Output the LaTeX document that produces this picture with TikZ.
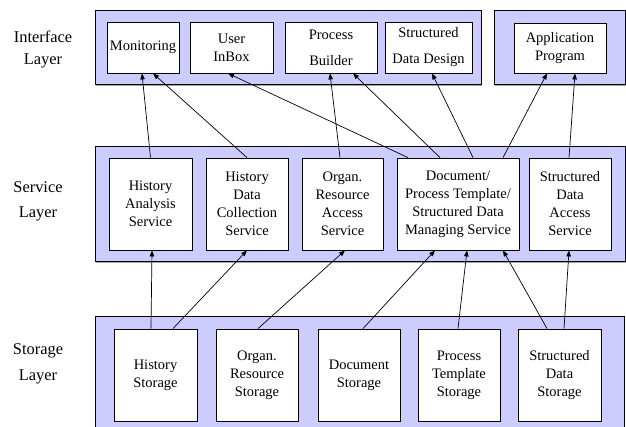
\documentclass[tikz,border=0pt]{standalone}
\usepackage{fontspec}
\setmainfont{Liberation Serif}
\usetikzlibrary{arrows.meta,shadows}
\definecolor{layerfill}{HTML}{CCCCFF}
\tikzset{
  panel/.style={draw=black, line width=1pt, fill=layerfill, inner sep=0pt,
    drop shadow={shadow xshift=1pt, shadow yshift=-1pt, fill=gray!70, opacity=1}},
  unit/.style={draw=black, line width=0.8pt, fill=white, inner sep=0pt, align=center,
    minimum height=#1, font=\fontsize{14.5}{18}\selectfont,
    drop shadow={shadow xshift=1pt, shadow yshift=-1pt, fill=gray!70, opacity=1}},
  unit/.default=51pt,
  layerlabel/.style={align=center, inner sep=0pt},
  link/.style={line width=0.7pt, -{Triangle[length=6pt,width=4.5pt]}}
}
\begin{document}
\begin{tikzpicture}[x=1pt,y=-1pt]
  \clip (0,0) rectangle (626,427);
  \fill[white] (0,0) rectangle (626,427);

  % layer labels
  \node[layerlabel, font=\fontsize{16.4}{22}\selectfont] (lint) at (43,50) {Interface\\Layer};
  \node[layerlabel, font=\fontsize{16.4}{25}\selectfont] (lsrv) at (38,201) {Service\\Layer};
  \node[layerlabel, font=\fontsize{16.4}{26}\selectfont] (lsto) at (38,364) {Storage\\Layer};

  % layer panels
  \node[panel, minimum width=386pt, minimum height=74pt] (pint) at (288,48) {};
  \node[panel, minimum width=131pt, minimum height=74pt] (papp) at (559.5,48) {};
  \node[panel, minimum width=530pt, minimum height=115pt] (psrv) at (360,204.5) {};
  \node[panel, minimum width=529pt, minimum height=125pt] (psto) at (359.5,379.5) {};

  % interface layer
  \node[unit, minimum width=72pt] (mon) at (143,47.5) {Monitoring};
  \node[unit, minimum width=83pt] (inbox) at (231.5,47.5) {User\\InBox};
  \node[unit, minimum width=92pt, font=\fontsize{14.5}{26}\selectfont] (pb) at (331,47.5) {Process\\Builder};
  \node[unit, minimum width=87pt, font=\fontsize{14.5}{26}\selectfont] (sdd) at (428.5,47.5) {Structured\\Data Design};
  \node[unit=50pt, minimum width=92pt] (app) at (560,48) {Application\\Program};

  % service layer
  \node[unit=92pt, minimum width=83pt] (has) at (150.5,204) {History\\Analysis\\Service};
  \node[unit=92pt, minimum width=82pt] (hdc) at (247,204) {History\\Data\\Collection\\Service};
  \node[unit=92pt, minimum width=81pt] (ora) at (342.5,204) {Organ.\\Resource\\Access\\Service};
  \node[unit=92pt, minimum width=122pt] (doc) at (458,204) {Document/\\Process Template/\\Structured Data\\Managing Service};
  \node[unit=92pt, minimum width=82pt] (sda) at (570,204) {Structured\\Data\\Access\\Service};

  % storage layer
  \node[unit=92pt, minimum width=83pt] (hs) at (155.5,375) {History\\Storage};
  \node[unit=92pt, minimum width=82pt] (ors) at (257,375) {Organ.\\Resource\\Storage};
  \node[unit=92pt, minimum width=82pt] (ds) at (359,375) {Document\\Storage};
  \node[unit=92pt, minimum width=82pt] (pts) at (459,375) {Process\\Template\\Storage};
  \node[unit=92pt, minimum width=83pt] (sds) at (559.5,375) {Structured\\Data\\Storage};

  % service -> interface
  \draw[link] (has.north) -- ([xshift=-1pt]mon.south);
  \draw[link] (hdc.north) -- ([xshift=10pt]mon.south);
  \draw[link] ([xshift=-50pt]doc.north) -- ([xshift=-3.5pt]inbox.south);
  \draw[link] ([xshift=-2.5pt]ora.north) -- ([xshift=-1pt]pb.south);
  \draw[link] ([xshift=-18pt]doc.north) -- ([xshift=22pt]pb.south);
  \draw[link] ([xshift=15pt]doc.north) -- ([xshift=3.5pt]sdd.south);
  \draw[link] ([xshift=45pt]doc.north) -- ([xshift=-13pt]app.south);
  \draw[link] ([xshift=-1pt]sda.north) -- ([xshift=15pt]app.south);

  % storage -> service
  \draw[link] ([xshift=-4.5pt]hs.north) -- ([xshift=1.5pt]has.south);
  \draw[link] ([xshift=17.5pt]hs.north) -- (hdc.south);
  \draw[link] ([xshift=1pt]ors.north) -- ([xshift=2.5pt]ora.south);
  \draw[link] ([xshift=4pt]ds.north) -- ([xshift=-23pt]doc.south);
  \draw[link] ([xshift=-1pt]pts.north) -- ([xshift=9pt]doc.south);
  \draw[link] ([xshift=-12.5pt]sds.north) -- ([xshift=45pt]doc.south);
  \draw[link] ([xshift=4.5pt]sds.north) -- ([xshift=-1pt]sda.south);
\end{tikzpicture}
\end{document}
